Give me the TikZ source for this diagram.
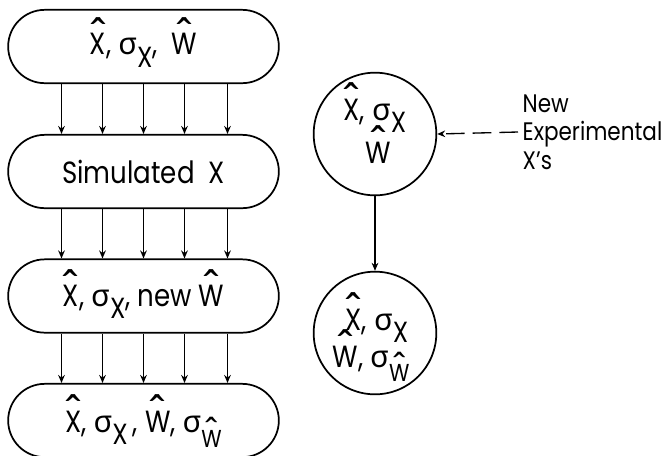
\documentclass[tikz,border=0pt]{standalone}
\usepackage{fontspec}
\setmainfont{Poppins}[FakeStretch=0.85]
\newfontfamily\gk{Noto Sans}
\usetikzlibrary{shapes.misc,arrows.meta}
% a letter with a caret set well clear above it
\newcommand{\hatof}[1]{\setbox0=\hbox{#1}%
  \makebox[\wd0]{\raisebox{\dimexpr\ht0-0.55em\relax}[\dimexpr\ht0+0.25em\relax][0pt]{\scalebox{1.4}{\gk ˆ}}}%
  \kern-\wd0\box0}
% sigma and its lowered indices
\newcommand{\sig}{{\gk σ}}
\newcommand{\sub}[1]{\raisebox{-0.4em}{\scalebox{0.95}{#1}}}
\newcommand{\subhat}[1]{\raisebox{-0.48em}{\scalebox{0.8}{\hatof{#1}}}}
\begin{document}
\begin{tikzpicture}[x=0.75pt,y=-0.75pt,
  font=\fontsize{23}{26}\selectfont,
  box/.style={draw, rounded rectangle, minimum width=203pt, minimum height=55pt,
    inner sep=0pt, line width=1.3pt},
  disc/.style={draw, circle, minimum size=92pt, inner sep=0pt, line width=1.3pt},
  inside/.style={anchor=base, inner sep=0pt},
  arr/.style={-{Stealth[length=6pt,width=5pt]}, line width=1pt}]
\useasboundingbox (0,0) rectangle (668,455);

% the chain of simulation stages
\node[box] (b1) at (143.5,46.5) {\hatof{X}, \sig\sub{X},\ \ \hatof{W}};
\node[box] (b2) at (143.5,171.5) {Simulated\ \ X};
\node[box] (b3) at (143.5,296) {\rule{0pt}{25pt}\hatof{X}, \sig\sub{X}, new \hatof{W}};
\node[box] (b4) at (143.5,420.5)
  {\rule{0pt}{29pt}\hatof{X}, \sig\sub{X}\,, \hatof{W}, \sig\subhat{W}\hspace{13pt}};

% five parallel links between consecutive stages
\foreach \u/\v in {b1/b2,b2/b3,b3/b4}
  \foreach \dx in {-82,-41,0,41,84}
    \draw[arr] ([xshift=\dx*0.75pt]\u.south) -- ([xshift=\dx*0.75pt]\v.north);

% the updating loop on the right
\node[disc] (c1) at (375,134) {};
\node[inside] (c1a) at ([yshift=10.5pt]c1.center) {\hatof{X}, \sig\sub{X}};
\node[inside] (c1b) at ([xshift=2.25pt,yshift=-21.75pt]c1.center) {\hatof{W}};

\node[disc] (c2) at (375,333) {};
\node[inside] (c2a) at ([xshift=1.5pt,yshift=2.25pt]c2.center) {\hatof{X}, \sig\sub{X}};
\node[inside] (c2b) at ([xshift=-3pt,yshift=-25.5pt]c2.center) {\hatof{W}, \sig\subhat{W}};

\draw[arr] (c1.south) -- (c2.north);

\node[anchor=west, align=left, font=\fontsize{19}{21.5}\selectfont] (nx) at (518,132)
  {New\\Experimental\\X’s};
\draw[arr, dash pattern=on 14pt off 6pt] (nx.west) -- (c1.east);
\end{tikzpicture}
\end{document}
